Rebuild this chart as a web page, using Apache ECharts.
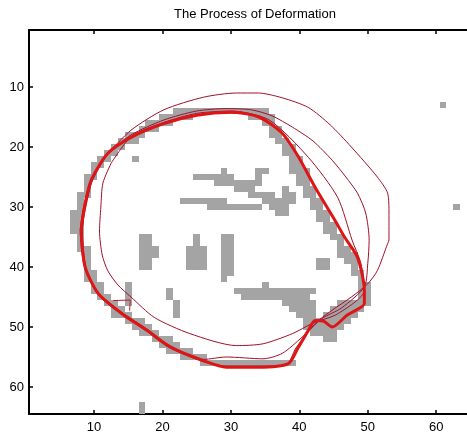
<!DOCTYPE html>
<html>
<head>
<meta charset="utf-8">
<script src="https://cdn.jsdelivr.net/npm/echarts@6/dist/echarts.min.js"></script>
<style>
  html, body { margin: 0; padding: 0; background: #fff; }
  #chart { width: 467px; height: 438px; }
</style>
</head>
<body>
<div id="chart"></div>
<script>
// Binary image: gray pixels listed per row as [firstCol, lastCol] runs
const grayRows = {
  13: [[61, 61]],
  14: [[22, 35]],
  15: [[20, 24], [33, 36]],
  16: [[18, 21], [35, 36]],
  17: [[17, 19], [36, 37]],
  18: [[15, 17], [36, 37]],
  19: [[14, 16], [37, 38]],
  20: [[13, 14], [38, 39]],
  21: [[12, 13], [38, 39]],
  22: [[11, 12], [16, 16], [39, 40]],
  23: [[10, 11], [39, 40]],
  24: [[10, 10], [29, 29], [34, 35], [39, 41]],
  25: [[9, 10], [25, 30], [34, 34], [40, 41]],
  26: [[9, 9], [28, 32], [33, 34], [40, 41]],
  27: [[9, 9], [31, 33], [38, 38], [41, 42]],
  28: [[8, 9], [33, 36], [38, 39], [41, 42]],
  29: [[8, 8], [23, 29], [35, 37], [38, 39], [42, 43]],
  30: [[8, 8], [27, 34], [36, 38], [42, 43], [63, 63]],
  31: [[7, 8], [37, 38], [43, 44]],
  32: [[7, 8], [43, 44]],
  33: [[7, 8], [44, 45]],
  34: [[7, 8], [44, 45]],
  35: [[8, 8], [17, 18], [25, 25], [29, 30], [45, 46]],
  36: [[8, 8], [17, 18], [25, 25], [29, 30], [46, 46]],
  37: [[8, 9], [17, 19], [24, 26], [29, 30], [46, 47]],
  38: [[9, 9], [17, 19], [24, 26], [29, 30], [46, 48]],
  39: [[9, 9], [17, 18], [24, 26], [29, 30], [43, 44], [47, 48]],
  40: [[9, 9], [17, 18], [24, 26], [29, 30], [43, 44], [48, 48]],
  41: [[9, 10], [29, 30], [48, 49]],
  42: [[9, 10], [29, 29], [49, 49]],
  43: [[10, 11], [15, 15], [35, 35], [49, 50]],
  44: [[10, 11], [15, 15], [21, 21], [31, 42], [49, 50]],
  45: [[11, 12], [15, 15], [21, 21], [32, 41], [49, 50]],
  46: [[12, 13], [15, 15], [22, 22], [38, 42], [46, 50]],
  47: [[13, 14], [22, 22], [39, 42], [45, 49]],
  48: [[13, 15], [22, 22], [40, 42], [44, 48]],
  49: [[15, 17], [41, 47]],
  50: [[16, 18], [41, 46]],
  51: [[17, 19], [42, 45]],
  52: [[19, 21], [44, 45]],
  53: [[20, 22]],
  54: [[21, 24]],
  55: [[23, 26]],
  56: [[26, 39]],
  63: [[17, 17]],
  64: [[17, 17]]
};

// Contour stages, as [column, row] points
const contourFinal = [
  [8.1, 33.9], [8.6, 30], [9.6, 25.5], [12.0, 21.1], [15.4, 18.4], [20.2, 16.1],
  [25, 14.7], [30, 14.2], [34.1, 15.0], [37.5, 17.7], [39.9, 21.7], [42.3, 26.7],
  [45.2, 32.2], [46.6, 35.0], [48.5, 38.4], [49.5, 43.9], [49.5, 46.1], [47, 48],
  [44.8, 50.0], [43.5, 49.0], [42.3, 48.9], [41.3, 50.6], [39.8, 53.5], [38.4, 56.1],
  [34, 56.7], [29.3, 56.7], [26, 55.6], [21.1, 53.3], [17.8, 50.6], [14.0, 47.7],
  [10.6, 44.4], [8.7, 40], [8.1, 33.9]
];
const contourInner = [
  [12.5, 22.7], [11.3, 26], [11.0, 30], [10.8, 34], [11.2, 38], [12, 40.6],
  [13.5, 43], [15.4, 45], [18.8, 48.4], [24, 51.1], [30.8, 53.1], [34.7, 52.8],
  [39, 51.1], [41.9, 49.4], [45.6, 47.8], [49.5, 43.9], [49, 39.4], [47.7, 35.5],
  [45.6, 28.4], [41.3, 21.7], [35.6, 15.5], [30, 14.0], [25, 14.4], [20.2, 15.9],
  [15.5, 18.2], [12.5, 22.7]
];
const contourMiddle = [
  [12.0, 21.1], [15.4, 18.0], [20.2, 15.5], [25, 14.0], [29.3, 13.6], [33, 13.8],
  [36, 14.8], [39, 16.7], [42, 19], [44.8, 22.2], [46.8, 25], [48.5, 27.7],
  [49.7, 31], [50.2, 35.5], [50, 39.4], [49.5, 43.3], [46.2, 46.8], [43.3, 48.6],
  [40.4, 51.7], [37.5, 54.4], [34.7, 55.3], [29.3, 55.0], [26, 55.4], [21.1, 53.1],
  [17.8, 50.4], [14.0, 47.5], [10.6, 44.2], [8.8, 40], [8.3, 33.9], [8.8, 30],
  [9.8, 25.5], [12.0, 21.1]
];
const contourOuter = [
  [12.0, 21.1], [15.4, 17.2], [20.2, 13.8], [26, 11.7], [30.8, 11.0], [34, 11.0],
  [37.5, 11.8], [41.3, 13.4], [44.5, 16.3], [47.6, 20], [51.4, 25], [52.9, 27.7],
  [53.1, 31], [53.1, 35.5], [52.9, 36.1], [51.4, 40.6], [50, 42.8], [47.6, 45],
  [44.8, 47.2], [42.8, 48.9], [41.5, 50.5], [39.5, 53.5], [38.0, 56.4], [34, 56.5],
  [29.3, 56.5], [26, 55.8], [21.1, 53.5], [17.8, 50.8], [14.0, 47.9], [10.6, 44.6],
  [8.6, 40], [8.0, 33.9], [8.5, 30], [9.5, 25.5], [12.0, 21.1]
];
const contourSpur = [[12.8, 45.6], [15.3, 45.5], [15.2, 47.3]];

const tickValues = [10, 20, 30, 40, 50, 60];
const titleText = 'The Process of Deformation';

const grayCells = [];
Object.keys(grayRows).forEach(function (r) {
  grayRows[r].forEach(function (run) {
    for (let c = run[0]; c <= run[1]; c++) grayCells.push([c, Number(r)]);
  });
});

const chart = echarts.init(document.getElementById('chart'), null, { renderer: 'canvas' });

const fontFamily = 'Liberation Sans, Arial, sans-serif';
const axisCommon = {
  type: 'value',
  min: 0.5,
  max: 64.5,
  splitLine: { show: false },
  axisLine: { show: true, onZero: false, lineStyle: { color: '#000', width: 2 } },
  axisTick: { show: true, inside: true, length: 4, customValues: tickValues, lineStyle: { color: '#000', width: 1.5 } }
};
const labelStyle = { color: '#000', fontSize: 13, fontFamily: fontFamily, customValues: tickValues };

function lineSeries(data, color, width, z) {
  return {
    type: 'line',
    data: data,
    showSymbol: false,
    symbol: 'none',
    smooth: 0.25,
    z: z,
    lineStyle: { color: color, width: width },
    silent: true,
    animation: false
  };
}

chart.setOption({
  animation: false,
  backgroundColor: '#fff',
  title: {
    text: titleText,
    left: 250,
    textAlign: 'center',
    top: 3,
    textStyle: { fontSize: 13, fontWeight: 'normal', color: '#000', fontFamily: fontFamily }
  },
  grid: { left: 29, top: 30, right: -7, bottom: 24 },
  xAxis: [
    Object.assign({}, axisCommon, { position: 'bottom', axisLabel: Object.assign({ margin: 7 }, labelStyle) }),
    Object.assign({}, axisCommon, { position: 'top', axisLabel: { show: false } })
  ],
  yAxis: [
    Object.assign({}, axisCommon, { inverse: true, position: 'left', axisLabel: Object.assign({ margin: 5 }, labelStyle) })
  ],
  series: [
    {
      type: 'custom',
      data: grayCells,
      z: 1,
      silent: true,
      renderItem: function (params, api) {
        const c = api.value(0), r = api.value(1);
        const p0 = api.coord([c - 0.5, r - 0.5]);
        const p1 = api.coord([c + 0.5, r + 0.5]);
        // snap cell edges to whole pixels so neighbouring cells meet without seams
        const x0 = Math.round(Math.min(p0[0], p1[0]));
        const x1 = Math.round(Math.max(p0[0], p1[0]));
        const y0 = Math.round(Math.min(p0[1], p1[1]));
        const y1 = Math.round(Math.max(p0[1], p1[1]));
        return {
          type: 'rect',
          shape: { x: x0, y: y0, width: x1 - x0, height: y1 - y0 },
          style: { fill: '#a4a4a4' }
        };
      }
    },
    lineSeries(contourOuter, '#a0102a', 1, 3),
    lineSeries(contourMiddle, '#a0102a', 1, 3),
    lineSeries(contourInner, '#a0102a', 1, 3),
    lineSeries(contourSpur, '#c01020', 1, 3),
    lineSeries(contourFinal, '#e01414', 3, 4)
  ]
});
</script>
</body>
</html>
